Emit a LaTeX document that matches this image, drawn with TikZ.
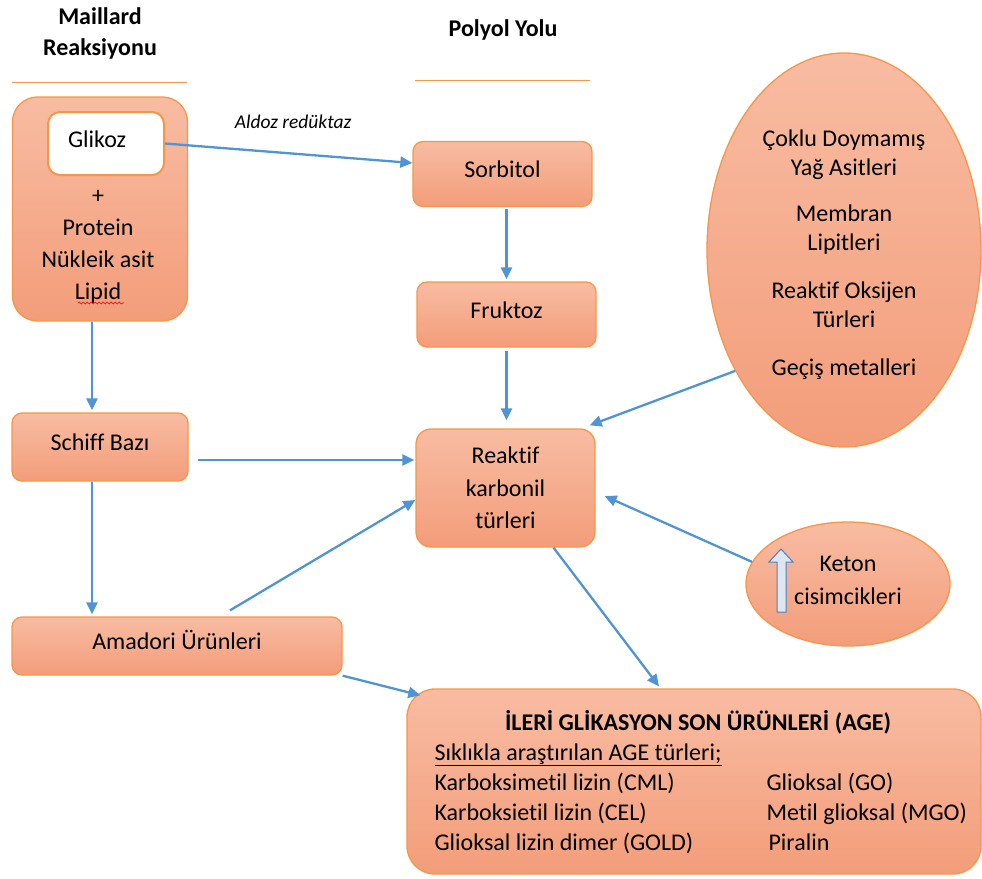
\documentclass[tikz,border=0pt]{standalone}
\usepackage{fontspec}
\setmainfont{Carlito}[RawFeature=-liga]
\usetikzlibrary{arrows.meta,shapes.geometric,decorations.pathmorphing}
\definecolor{boxtop}{RGB}{248,188,162}
\definecolor{boxbottom}{RGB}{243,157,122}
\definecolor{boxline}{RGB}{247,150,70}
\definecolor{flowblue}{RGB}{79,149,213}
\definecolor{upfill}{RGB}{221,231,243}
\definecolor{upline}{RGB}{79,129,189}

\begin{document}
\begin{tikzpicture}[x=1pt, y=-1pt, >={Triangle[length=12pt,width=11pt]},
  every node/.style={font=\fontsize{24}{30}\selectfont},
  stagebox/.style={draw=boxline, line width=1.3pt, top color=boxtop, bottom color=boxbottom, inner sep=0pt},
  oneline/.style={text height=17pt, text depth=10pt},
  flow/.style={->, draw=flowblue, line width=2.3pt},
  heading/.style={font=\fontsize{24}{31}\selectfont\bfseries, align=center},
  titlerule/.style={draw=boxline, line width=1pt}]
  \useasboundingbox (0,0) rectangle (982,878);

  \node[heading] (maillardtitle) at (100,33) {Maillard\\Reaksiyonu};
  \draw[titlerule] (12,82) -- (187,82);
  \node[heading] (polyoltitle) at (503,30) {Polyol Yolu};
  \draw[titlerule] (415,80) -- (590,80);

  \node[stagebox, rounded corners=25pt, minimum width=175pt, minimum height=224pt] (maillard) at (100,209) {};
  \node[draw=boxline, fill=white, line width=2pt, rounded corners=12pt, minimum width=116pt, minimum height=63pt, oneline, text width=76pt, align=left] (glikoz) at (106,143.5) {Glikoz};
  \node[align=center, font=\fontsize{24}{32}\selectfont] (reactants) at (98,247) {+\\Protein\\Nükleik asit\\Lipid};
  \draw[red, line width=0.6pt, decorate, decoration={snake, amplitude=1pt, segment length=4pt}] (78,303) -- (124,303);
  \node[font=\fontsize{19.5}{24}\selectfont\itshape] (enzyme) at (293,122) {Aldoz redüktaz};

  \node[stagebox, rounded corners=10pt, minimum width=179pt, minimum height=65pt, oneline] (sorbitol) at (502.5,174) {Sorbitol};
  \node[stagebox, rounded corners=10pt, minimum width=179pt, minimum height=65pt, oneline] (fruktoz) at (506.5,314.5) {Fruktoz};
  \node[stagebox, rounded corners=15pt, minimum width=179pt, minimum height=118pt, align=center, font=\fontsize{24}{32.5}\selectfont] (reaktif) at (505.5,488) {Reaktif\\karbonil\\türleri};
  \node[stagebox, rounded corners=10pt, minimum width=176pt, minimum height=68pt, oneline] (schiff) at (100,447) {Schiff Bazı};
  \node[stagebox, rounded corners=10pt, minimum width=330pt, minimum height=58pt, oneline] (amadori) at (177,646) {Amadori Ürünleri};
  \node[stagebox, rounded corners=28pt, minimum width=574pt, minimum height=185pt] (age) at (694,781.5) {};

  \node[stagebox, ellipse, minimum width=274pt, minimum height=394pt, align=center, font=\fontsize{24}{29}\selectfont] (lipids) at (844,250)
    {\mbox{}\\[-3pt]Çoklu Doymamış\\Yağ Asitleri\\[17pt]Membran\\Lipitleri\\[19pt]Reaktif Oksijen\\Türleri\\[19pt]Geçiş metalleri};
  \node[stagebox, ellipse, minimum width=204pt, minimum height=124pt, align=center, font=\fontsize{24}{33}\selectfont] (keton) at (848,584) {Keton\\cisimcikleri\\[-25pt]\mbox{}};
  \draw[upline, fill=upfill, line width=1pt] (777,612) -- (777,562) -- (769,562) -- (781,549) -- (793,562) -- (786,562) -- (786,612) -- cycle;

  \node[font=\fontsize{24}{30}\selectfont\bfseries] (agetitle) at (698,722) {İLERİ GLİKASYON SON ÜRÜNLERİ (AGE)};
  \node[anchor=base west] (agesubtitle) at (431,760) {\underline{Sıklıkla araştırılan AGE türleri;}};
  \node[anchor=base west] (cml) at (431,790) {Karboksimetil lizin (CML)};
  \node[anchor=base west] (cel) at (431,820) {Karboksietil lizin (CEL)};
  \node[anchor=base west] (gold) at (431,850) {Glioksal lizin dimer (GOLD)};
  \node[anchor=base west] (go) at (763,790) {Glioksal (GO)};
  \node[anchor=base west] (mgo) at (763,820) {Metil glioksal (MGO)};
  \node[anchor=base west] (piralin) at (765,850) {Piralin};

  \coordinate (schiffout) at ([yshift=-13pt]schiff.east);
  \coordinate (schiffdown) at ([xshift=-8pt]schiff.south);
  \draw[flow] (glikoz.east) -- ([yshift=11pt]sorbitol.west);
  \draw[flow, shorten <=2pt, shorten >=2pt] (fruktoz.north |- sorbitol.south) -- (fruktoz.north);
  \draw[flow, shorten <=3pt, shorten >=8pt] (fruktoz.south) -- (fruktoz.south |- reaktif.north);
  \draw[flow] (lipids.228) -- ([xshift=-6pt,yshift=3pt]reaktif.north east);
  \draw[flow, shorten >=2pt] ([xshift=-8pt]maillard.south) -- ([xshift=-8pt]schiff.north);
  \draw[flow, shorten <=9pt, shorten >=1pt] (schiffout) -- (schiffout -| reaktif.west);
  \draw[flow, shorten >=2pt] (schiffdown) -- (schiffdown |- amadori.north);
  \draw[flow] ([xshift=53pt,yshift=6pt]amadori.north) -- ([yshift=-12pt]reaktif.west);
  \draw[flow] ([xshift=48pt]reaktif.south) -- ([xshift=-35pt,yshift=2pt]age.north);
  \draw[flow] (amadori.south east) -- ([xshift=14pt,yshift=-7pt]age.north west);
  \draw[flow] (keton.167) -- ([xshift=9pt,yshift=-8pt]reaktif.east);
\end{tikzpicture}
\end{document}
